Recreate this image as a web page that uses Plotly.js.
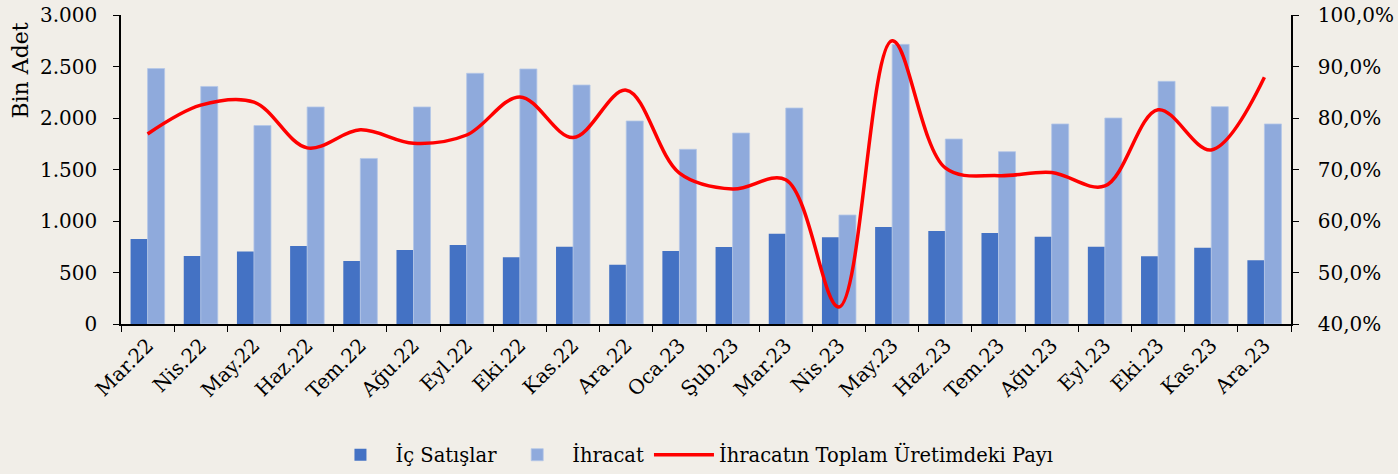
<!DOCTYPE html>
<html><head><meta charset="utf-8">
<script src="https://cdn.plot.ly/plotly-3.0.1.min.js"></script>
<style>html,body{margin:0;padding:0;background:#f1eee8;}</style>
</head><body>
<div id="chart" style="width:1398px;height:474px;"></div>
<script>
const months = ["Mar.22","Nis.22","May.22","Haz.22","Tem.22","Ağu.22","Eyl.22","Eki.22","Kas.22","Ara.22","Oca.23","Şub.23","Mar.23","Nis.23","May.23","Haz.23","Tem.23","Ağu.23","Eyl.23","Eki.23","Kas.23","Ara.23"];
const icSatislar = [825,660,704,757,612,718,767,647,751,576,709,748,877,842,942,903,883,848,751,657,741,618];
const ihracat = [2480,2306,1927,2107,1607,2107,2434,2476,2320,1971,1696,1854,2097,1058,2715,1796,1673,1942,2000,2356,2110,1942];
const ihracatPayi = [0.769,0.825,0.831,0.742,0.777,0.751,0.767,0.841,0.762,0.854,0.693,0.662,0.680,0.433,0.950,0.703,0.688,0.694,0.668,0.816,0.738,0.879];
const yAxisTitle = "Bin Adet";

const fontFam = "DejaVu Serif, serif";
const traces = [
  {type:"bar", name:"İç Satışlar", x:months, y:icSatislar, marker:{color:"#4472c4"}},
  {type:"bar", name:"İhracat", x:months, y:ihracat, marker:{color:"#8faadc", line:{color:"#b4c7e7", width:0.8}}},
  {type:"scatter", mode:"lines", name:"İhracatın Toplam Üretimdeki Payı", x:months, y:ihracatPayi, yaxis:"y2",
   line:{color:"#ff0000", width:3.5, shape:"spline", smoothing:1}}
];
const layout = {
  width:1398, height:474,
  paper_bgcolor:"#f1eee8", plot_bgcolor:"#f1eee8",
  margin:{l:121, r:107, t:15, b:150, autoexpand:false},
  separators:",.",
  font:{family:fontFam, size:19, color:"#000"},
  barmode:"group", bargap:0.36, bargroupgap:0,
  showlegend:true,
  legend:{orientation:"h", x:0.488, xanchor:"center", yref:"container", y:0.04, yanchor:"middle", font:{size:19.5}, itemwidth:60, tracegroupgap:0, bgcolor:"rgba(0,0,0,0)"},
  xaxis:{type:"category", tickangle:-45, showline:true, linecolor:"#000", linewidth:1.5, ticks:"outside", ticklen:6, tickcolor:"#000", tickson:"boundaries", showgrid:false, tickfont:{size:20}, automargin:false},
  yaxis:{range:[0,3000], dtick:500, tickformat:",d", showline:true, linecolor:"#000", linewidth:1.5, ticks:"outside", ticklen:6, tickcolor:"#000", showgrid:false, zeroline:false, tickfont:{size:20}, ticklabelstandoff:12, automargin:false},
  yaxis2:{range:[0.4,1.0], dtick:0.1, tickformat:".1%", overlaying:"y", side:"right", showline:true, linecolor:"#000", linewidth:1.5, ticks:"outside", ticklen:6, tickcolor:"#000", showgrid:false, zeroline:false, tickfont:{size:20}, ticklabelstandoff:15, automargin:false},
  annotations:[{text:yAxisTitle, textangle:-90, xref:"paper", yref:"paper", x:-0.0855, xanchor:"center", y:0.82, yanchor:"middle", showarrow:false, font:{size:22}}]
};
Plotly.newPlot("chart", traces, layout, {displayModeBar:false});
</script>
</body></html>
